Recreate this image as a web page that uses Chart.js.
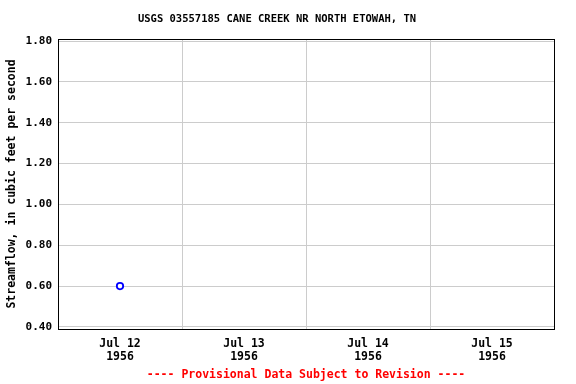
<!DOCTYPE html>
<html>
<head>
<meta charset="utf-8">
<script src="https://cdn.jsdelivr.net/npm/chart.js@4/dist/chart.umd.min.js"></script>
<style>
html,body{margin:0;padding:0;background:#fff;}
#wrap{width:576px;height:384px;}
</style>
</head>
<body>
<div id="wrap"><canvas id="c" width="576" height="384"></canvas></div>
<script>
const dayLabels = ['Jul 12', 'Jul 13', 'Jul 14', 'Jul 15'];
const yearLabel = '1956';
const obsDay = [0.5];        // days after Jul 12 00:00 (Jul 12 noon)
const obsFlow = [0.60];      // cubic feet per second
const yTicks = [0.40, 0.60, 0.80, 1.00, 1.20, 1.40, 1.60, 1.80];
const titleText = 'USGS 03557185 CANE CREEK NR NORTH ETOWAH, TN';
const yTitle = 'Streamflow, in cubic feet per second';
const footerText = '---- Provisional Data Subject to Revision ----';

const FONT = '"DejaVu Sans Mono", "Liberation Mono", monospace';

const frame = {
  id: 'frame',
  afterDraw(chart) {
    const a = chart.chartArea, ctx = chart.ctx;
    ctx.save();
    ctx.strokeStyle = '#000';
    ctx.lineWidth = 1;
    ctx.strokeRect(Math.round(a.left) + 0.5, Math.round(a.top) + 0.5,
                   Math.round(a.right - a.left), Math.round(a.bottom - a.top));
    ctx.font = 'bold 10.5px ' + FONT;
    ctx.fillStyle = '#000';
    ctx.textAlign = 'center';
    ctx.textBaseline = 'middle';
    ctx.fillText(titleText, 277, 19);
    ctx.font = 'bold 11.5px ' + FONT;
    ctx.fillStyle = '#ff0000';
    ctx.fillText(footerText, 306, 375);
    ctx.restore();
  }
};

const xTickVals = [];
for (let i = 0; i <= dayLabels.length; i++) {
  xTickVals.push(i);
  if (i < dayLabels.length) xTickVals.push(i + 0.5);
}

new Chart(document.getElementById('c'), {
  type: 'scatter',
  data: {
    datasets: [{
      data: obsDay.map((d, i) => ({ x: d, y: obsFlow[i] })),
      pointStyle: 'circle',
      pointRadius: 3.2,
      pointBorderWidth: 1.8,
      pointBorderColor: '#0000ff',
      pointBackgroundColor: '#ffffff',
      showLine: false
    }]
  },
  options: {
    responsive: false,
    animation: false,
    devicePixelRatio: 1,
    layout: { padding: { top: 39, right: 22, bottom: 0, left: 0 } },
    plugins: {
      legend: { display: false },
      tooltip: { enabled: false },
      title: { display: false }
    },
    scales: {
      x: {
        type: 'linear',
        min: 0,
        max: dayLabels.length,
        afterBuildTicks(scale) { scale.ticks = xTickVals.map(v => ({ value: v })); },
        afterFit(scale) { scale.height = 55; },
        border: { display: false },
        grid: {
          drawTicks: false,
          color: ctx => (ctx.tick && Number.isInteger(ctx.tick.value)) ? '#cccccc' : 'rgba(0,0,0,0)',
          lineWidth: 1
        },
        ticks: {
          autoSkip: false,
          maxRotation: 0,
          padding: 8,
          color: '#000',
          font: { family: FONT, size: 11.5, weight: 'bold', lineHeight: 1.15 },
          callback(v) {
            if (Number.isInteger(v)) return '';
            const i = Math.floor(v);
            return [dayLabels[i], yearLabel];
          }
        }
      },
      y: {
        min: 0.39,
        max: 1.81,
        afterBuildTicks(scale) { scale.ticks = yTicks.map(v => ({ value: v })); },
        afterFit(scale) { scale.width = 58; },
        border: { display: false },
        grid: { drawTicks: false, color: '#cccccc', lineWidth: 1 },
        ticks: {
          padding: 6,
          color: '#000',
          font: { family: FONT, size: 11, weight: 'bold' },
          callback: v => Number(v).toFixed(2)
        },
        title: {
          display: true,
          text: yTitle,
          color: '#000',
          padding: { top: 5, bottom: 0 },
          font: { family: FONT, size: 11.5, weight: 'bold' }
        }
      }
    }
  },
  plugins: [frame]
});
</script>
</body>
</html>
